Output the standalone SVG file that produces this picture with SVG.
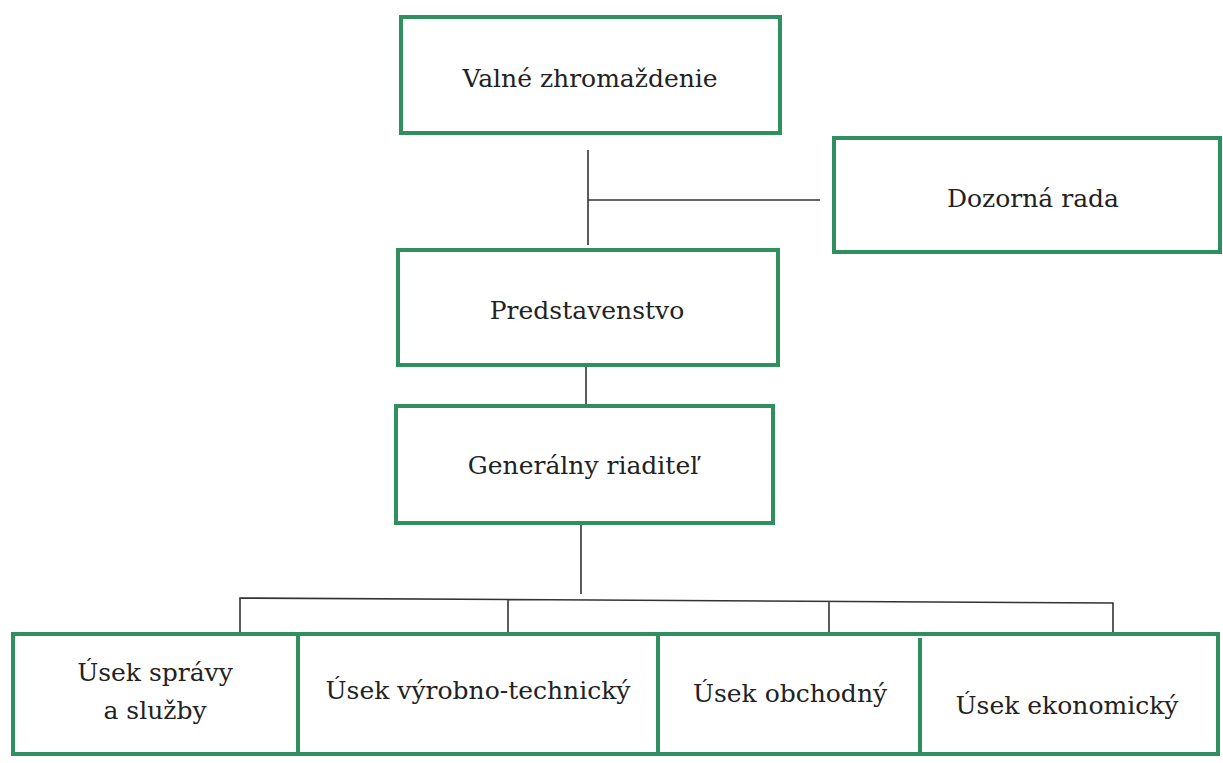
<svg xmlns="http://www.w3.org/2000/svg" width="1223" height="763" viewBox="0 0 1223 763">
<style>
.box{fill:#fff;stroke:#2f8f5f;stroke-width:4}
.t{font-family:'DejaVu Serif','Liberation Serif',serif;font-size:25px;fill:#222;text-anchor:middle}
.c{stroke:#333;stroke-width:1.6;fill:none}
</style>
<rect width="1223" height="763" fill="#fff"/>
<g id="connectors">
<path class="c" d="M588 150V245M588 200H820M586 365V405M581 523V594M240 633V598L1113 603V640M508 633V600M829 633V602"/>
</g>
<g id="valne"><rect class="box" x="401" y="17" width="379" height="116"/><text class="t" x="590" y="87">Valné zhromaždenie</text></g>
<g id="dozorna"><rect class="box" x="834" y="138" width="386" height="114"/><text class="t" x="1033" y="207">Dozorná rada</text></g>
<g id="predstavenstvo"><rect class="box" x="398" y="250" width="380" height="115"/><text class="t" x="587" y="319">Predstavenstvo</text></g>
<g id="generalny"><rect class="box" x="396" y="406" width="377" height="117"/><text class="t" x="583" y="474">Generálny riaditeľ</text></g>
<g id="bottom">
<rect class="box" x="13" y="634" width="1205" height="120"/>
<path class="box" d="M298 634V754M658 636V754M920 638V754" fill="none"/>
</g>
<g id="sprava"><text class="t" x="155" y="681">Úsek správy</text><text class="t" x="155" y="719">a služby</text></g>
<g id="vyrobno"><text class="t" x="478" y="699">Úsek výrobno-technický</text></g>
<g id="obchodny"><text class="t" x="790" y="702">Úsek obchodný</text></g>
<g id="ekonomicky"><text class="t" x="1067" y="714">Úsek ekonomický</text></g>
</svg>
